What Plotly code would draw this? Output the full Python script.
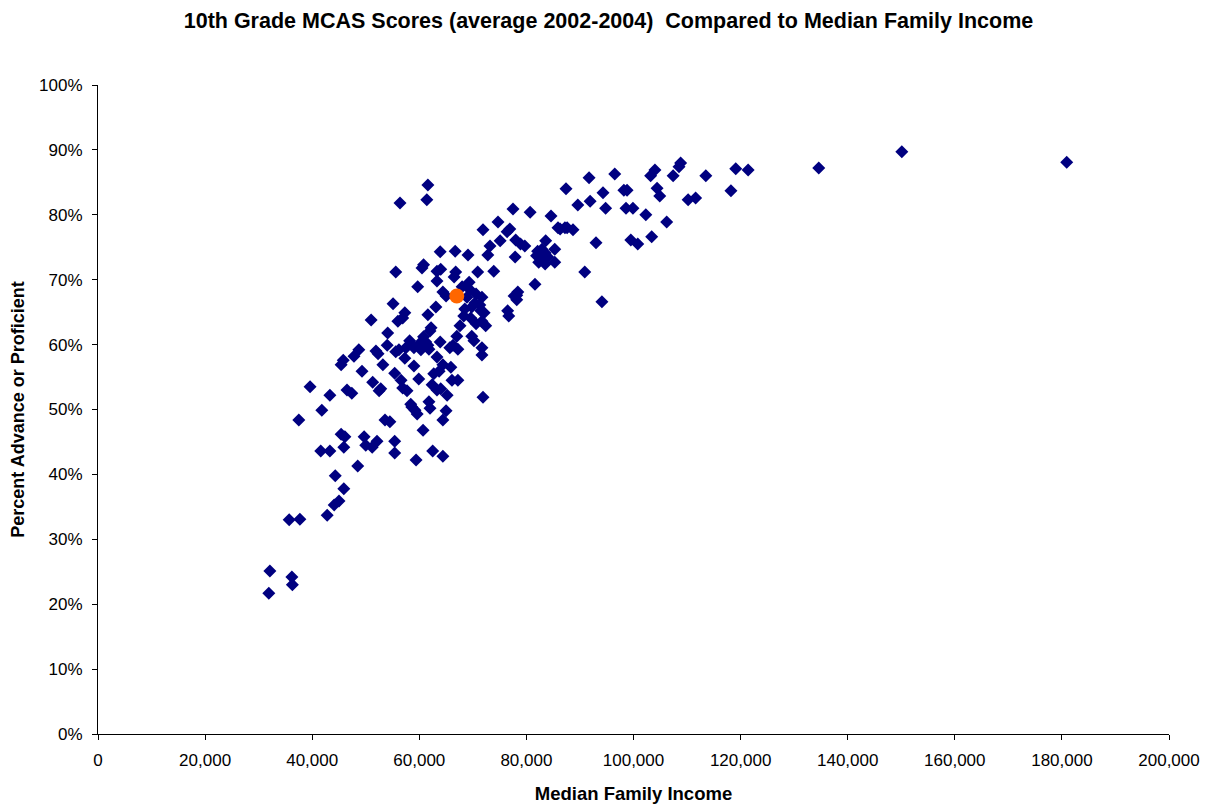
import plotly.graph_objects as go

# median family income (dollars) and percent advanced/proficient
income = [
    31900, 32100, 36200, 36300, 35700, 37700, 37500, 39600, 41800, 41600,
    43300, 43300, 42800, 44300, 44100, 45000, 45900, 45400, 46100, 45900,
    45400, 45800, 46500, 47400, 47800, 48700, 48500, 49300, 49700, 50000,
    51000, 51200, 52100, 51300, 51900, 52300, 52500, 52800, 53200, 53600,
    54000, 54100, 54500, 55100, 55400, 55400, 55400, 55600, 55600, 56000,
    56200, 56400, 56600, 56900, 57300, 57300, 57500, 56900, 57700, 58200,
    58400, 59000, 59000, 58600, 59200, 59600, 59400, 59700, 59900, 60100,
    60700, 60300, 60500, 60800, 60800, 61200, 61600, 61400, 61600, 61800,
    61800, 62000, 62200, 61600, 62000, 62400, 62500, 62700, 63100, 63300,
    63300, 63300, 63700, 63900, 63900, 64000, 64400, 64400, 64400, 65000,
    65200, 65700, 65900, 66100, 66300, 66500, 66700, 66800, 67000, 67200,
    67200, 67600, 68000, 68300, 68500, 68900, 69100, 69300, 69500, 69600,
    69800, 69800, 70200, 70400, 70600, 70600, 70900, 71300, 71500, 71700,
    71700, 71700, 71700, 71900, 71900, 72100, 72400, 72800, 73200, 73900,
    74700, 75100, 76400, 76500, 76700, 76900, 77500, 77700, 77900, 78000,
    78200, 78200, 78400, 78900, 79700, 80700, 81600, 81900, 82100, 82300,
    82700, 82900, 83100, 83500, 83500, 83600, 84000, 84600, 85300, 85300,
    85900, 86300, 87400, 87200, 87600, 88700, 89600, 90900, 91700, 91900,
    93000, 94300, 94100, 94800, 96500, 98200, 98600, 98800, 99500, 99900,
    100800, 102300, 103200, 103400, 104000, 104400, 104900, 106200, 107400, 108500,
    108800, 110200, 111600, 113500, 118200, 119100, 121400, 134600, 150100, 180900,
    63300, 64000, 64400, 65000,
]
pct = [
    21.7, 25.1, 24.2, 23.0, 33.0, 33.1, 48.4, 53.5, 49.9, 43.6,
    43.6, 52.2, 33.7, 39.8, 35.3, 35.9, 37.8, 46.2, 45.8, 44.2,
    56.9, 57.6, 53.0, 52.5, 58.2, 59.2, 41.3, 55.9, 45.8, 44.5,
    63.8, 44.2, 45.1, 54.2, 59.0, 58.6, 52.9, 53.2, 56.9, 48.4,
    59.9, 61.8, 48.1, 66.3, 55.6, 45.1, 43.3, 71.2, 58.9, 63.6,
    59.2, 81.8, 54.5, 64.1, 64.9, 57.9, 59.5, 53.3, 52.9, 60.6,
    50.8, 56.7, 59.5, 50.4, 49.9, 49.3, 42.2, 68.9, 54.7, 60.2,
    46.8, 59.2, 71.8, 72.3, 61.2, 60.4, 59.9, 82.3, 84.6, 59.3,
    51.2, 62.1, 62.6, 64.6, 50.2, 53.8, 43.6, 55.5, 65.8, 69.8,
    58.1, 53.0, 55.9, 74.3, 60.4, 53.2, 48.4, 56.9, 42.8, 49.8,
    52.2, 59.5, 56.5, 54.5, 59.9, 70.4, 74.4, 71.2, 61.3, 59.3,
    54.5, 62.9, 68.9, 64.4, 65.5, 67.3, 73.8, 69.6, 68.4, 64.1,
    65.8, 61.3, 60.6, 66.4, 67.8, 63.2, 71.2, 66.1, 65.2, 67.3,
    63.6, 59.5, 58.4, 77.7, 51.9, 64.9, 62.9, 73.8, 75.2, 71.3,
    78.9, 76.0, 77.4, 65.2, 64.4, 77.8, 80.9, 67.5, 73.5, 76.1,
    67.6, 66.9, 68.1, 75.5, 75.2, 80.4, 69.3, 73.7, 74.4, 72.7,
    73.2, 74.7, 73.0, 74.1, 72.4, 76.0, 73.5, 79.8, 72.7, 74.7,
    78.0, 77.8, 84.0, 78.0, 78.0, 77.7, 81.5, 71.2, 85.7, 82.1,
    75.7, 83.4, 66.6, 81.0, 86.3, 83.8, 81.0, 83.8, 76.1, 81.0,
    75.5, 80.0, 86.0, 76.6, 86.9, 84.1, 82.9, 78.9, 86.0, 87.4,
    88.0, 82.3, 82.6, 86.0, 83.7, 87.1, 86.9, 87.2, 89.7, 88.1,
    71.3, 71.6, 68.1, 67.5,
]

# highlighted district
hl_income = [67000]
hl_pct = [67.5]

x_ticks = list(range(0, 200001, 20000))
y_ticks = list(range(0, 101, 10))
y_labels = [f"{v}%" for v in y_ticks]

fig = go.Figure()
fig.add_trace(go.Scatter(
    x=income, y=pct, mode='markers',
    marker=dict(symbol='diamond', size=10, color='#000080', line=dict(width=0)),
))
fig.add_trace(go.Scatter(
    x=hl_income, y=hl_pct, mode='markers',
    marker=dict(symbol='circle', size=15, color='#FF6600', line=dict(width=0)),
))

# page body has an 8px margin, so the figure is sized/offset to land where the reference does
fig.update_layout(
    width=1201, height=796,
    title=dict(text='<b>10th Grade MCAS Scores (average 2002-2004)  Compared to Median Family Income</b>',
               x=0.5, xanchor='center', y=1 - 12 / 796, yanchor='middle',
               font=dict(family='Liberation Sans, Arial', size=21.5, color='black')),
    paper_bgcolor='white', plot_bgcolor='white',
    showlegend=False,
    margin=dict(l=90, r=40, t=77, b=70),
    font=dict(family='Liberation Sans, Arial', size=17, color='black'),
    xaxis=dict(range=[0, 200000], tickvals=x_ticks, tickformat=',', showgrid=False, zeroline=False,
               showline=True, linecolor='black', linewidth=1, ticks='outside', ticklen=5,
               tickcolor='black', tickfont=dict(size=17), automargin=False, ticklabelstandoff=6,
               title=dict(text='<b>Median Family Income</b>', font=dict(size=18.5), standoff=18)),
    yaxis=dict(range=[0, 100], tickvals=y_ticks, ticktext=y_labels, showgrid=False, zeroline=False,
               showline=True, linecolor='black', linewidth=1, ticks='outside', ticklen=5,
               tickcolor='black', tickfont=dict(size=17), automargin=False, ticklabelstandoff=6,
               title=dict(text='<b>Percent Advance or Proficient</b>', font=dict(size=18), standoff=9)),
)

fig.write_html("out.html")
